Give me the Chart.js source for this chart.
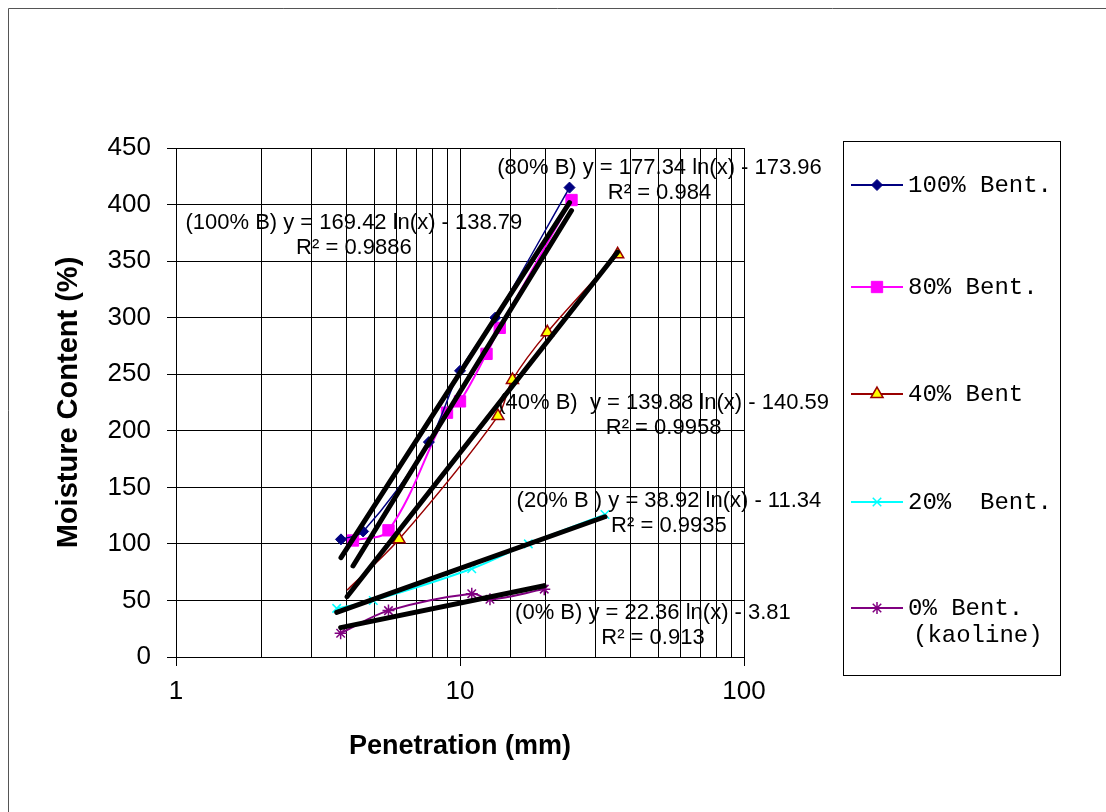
<!DOCTYPE html>
<html>
<head>
<meta charset="utf-8">
<title>Moisture content vs penetration</title>
<script src="https://cdn.jsdelivr.net/npm/chart.js@4.4.1/dist/chart.umd.min.js"></script>
<style>
  html, body { margin: 0; padding: 0; background: #fff; }
  #wrap { width: 1106px; height: 812px; position: relative; }
</style>
</head>
<body>
<div id="wrap"><canvas id="chart"></canvas></div>
<script>
// penetration (mm) / moisture content (%)
const pen100 = [3.81, 4.56, 7.77, 10.0, 13.3, 24.3];
const mc100  = [104, 111, 190, 253, 300, 415];
const pen80  = [4.2, 5.6, 9.0, 10.0, 12.4, 13.8, 24.7];
const mc80   = [103, 112, 216, 226, 268, 291, 404];
const pen40  = [4.0, 6.1, 13.6, 15.3, 20.3, 35.9];
const mc40   = [59, 104, 213, 245, 287, 356];
const pen20  = [3.68, 4.95, 11.0, 17.4, 32.4];
const mc20   = [43, 50, 78, 100, 126];
const pen0   = [3.8, 5.6, 11.0, 12.75, 19.8];
const mc0    = [21, 41, 56, 51, 60];

// trendline end points (log fits)
const trendX100 = [3.81, 24.3], trendY100 = [87.8, 401.7];
const trendX80  = [4.2, 24.7],  trendY80  = [80.5, 394.7];
const trendX40  = [4.0, 35.9],  trendY40  = [53.3, 358];
const trendX20  = [3.68, 32.4], trendY20  = [39.4, 124];
const trendX0   = [3.8, 19.8],  trendY0   = [26, 63];

const seriesNames = ['100% Bent.', '80% Bent.', '40% Bent', '20%  Bent.', '0% Bent.'];
const trendEquations = [
  '(100% B) y = 169.42 ln(x) - 138.79',
  '(80% B) y = 177.34 ln(x) - 173.96',
  '(40% B)  y = 139.88 ln(x) - 140.59',
  '(20% B ) y = 38.92 ln(x) - 11.34',
  '(0% B) y = 22.36 ln(x) - 3.81'
];
const trendR2 = ['R² = 0.9886', 'R² = 0.984', 'R² = 0.9958', 'R² = 0.9935', 'R² = 0.913'];
const xTickLabels = [1, 10, 100];

const pts = (xs, ys) => xs.map((x, i) => ({ x: x, y: ys[i] }));

function seriesDs(label, xs, ys, color, style) {
  return {
    label: label,
    data: pts(xs, ys),
    borderColor: color,
    backgroundColor: style.fill || color,
    borderWidth: style.width || 2,
    pointStyle: style.shape,
    pointRadius: style.radius,
    pointBorderColor: style.stroke || color,
    pointBackgroundColor: style.fill || color,
    pointBorderWidth: style.pbw || 1,
    tension: 0.35,
    order: 2
  };
}

function trendDs(xs, ys) {
  return {
    label: 'trend',
    data: pts(xs, ys),
    borderColor: '#000',
    borderWidth: 5,
    pointRadius: 0,
    borderCapStyle: 'round',
    tension: 0,
    order: 1
  };
}

const datasets = [
  seriesDs(seriesNames[0], pen100, mc100, '#000080', { shape: 'rectRot', radius: 5.5, width: 1.5 }),
  seriesDs(seriesNames[1], pen80, mc80, '#ff00ff', { shape: 'rect', radius: 8 }),
  seriesDs(seriesNames[2], pen40, mc40, '#990000', { shape: 'triangle', radius: [0, 7, 7, 7, 7, 7], fill: '#ffff00', stroke: '#990000', pbw: 1.5, width: 1.5 }),
  seriesDs(seriesNames[3], pen20, mc20, '#00ffff', { shape: 'crossRot', radius: 6, pbw: 1.5 }),
  seriesDs(seriesNames[4], pen0, mc0, '#800080', { shape: 'star', radius: 6, pbw: 1.5 }),
  trendDs(trendX100, trendY100),
  trendDs(trendX80, trendY80),
  trendDs(trendX40, trendY40),
  trendDs(trendX20, trendY20),
  trendDs(trendX0, trendY0)
];

// where the equation boxes sit (data units, centre of first line)
const eqAnchor = [
  { x: 4.23, y: 384 },
  { x: 50.4, y: 432 },
  { x: 52.1, y: 225 },
  { x: 54.4, y: 138 },
  { x: 47.8, y: 39 }
];

const extras = {
  id: 'extras',
  beforeDraw(chart) {
    const ctx = chart.ctx;
    ctx.save();
    ctx.strokeStyle = '#555';
    ctx.lineWidth = 1;
    ctx.beginPath();
    ctx.moveTo(8.5, 900);
    ctx.lineTo(8.5, 8.5);
    ctx.lineTo(1200, 8.5);
    ctx.stroke();
    ctx.restore();
  },
  afterDraw(chart) {
    const ctx = chart.ctx;
    const xs = chart.scales.x, ys = chart.scales.y;
    ctx.save();
    // trendline equations
    ctx.fillStyle = '#000';
    ctx.font = '22px "Liberation Sans", Arial, sans-serif';
    ctx.textAlign = 'center';
    ctx.textBaseline = 'middle';
    eqAnchor.forEach((a, i) => {
      const px = xs.getPixelForValue(a.x);
      const py = ys.getPixelForValue(a.y);
      ctx.fillText(trendEquations[i], px, py);
      ctx.fillText(trendR2[i], px, py + 25);
    });

    // legend box
    const box = { left: 843.5, top: 141.5, w: 217, h: 534 };
    ctx.strokeStyle = '#000';
    ctx.lineWidth = 1;
    ctx.strokeRect(box.left, box.top, box.w, box.h);
    ctx.font = '24px "Liberation Mono", "Courier New", monospace';
    ctx.textAlign = 'left';
    const rowY = [185, 287, 394, 502, 608];
    for (let i = 0; i < 5; i++) {
      const ds = chart.data.datasets[i];
      const y = rowY[i];
      ctx.strokeStyle = ds.borderColor;
      ctx.lineWidth = 2;
      ctx.beginPath();
      ctx.moveTo(851, y);
      ctx.lineTo(903, y);
      ctx.stroke();
      const r = Array.isArray(ds.pointRadius) ? ds.pointRadius[1] : ds.pointRadius;
      ctx.fillStyle = ds.pointBackgroundColor;
      ctx.strokeStyle = ds.pointBorderColor;
      ctx.lineWidth = ds.pointBorderWidth;
      Chart.helpers.drawPoint(ctx, { pointStyle: ds.pointStyle, radius: r, rotation: 0, borderWidth: ds.pointBorderWidth }, 877, y);
      ctx.fillStyle = '#000';
      ctx.fillText(ds.label, 908, y + 1);
    }
    ctx.fillText('(kaoline)', 913, 636);
    ctx.restore();
  }
};

new Chart(document.getElementById('chart'), {
  type: 'line',
  data: { datasets: datasets },
  options: {
    responsive: true,
    maintainAspectRatio: false,
    animation: false,
    layout: { padding: { top: 148, right: 362, left: 0, bottom: 0 } },
    plugins: {
      legend: { display: false },
      tooltip: { enabled: false }
    },
    scales: {
      x: {
        type: 'logarithmic',
        min: 1,
        max: 100,
        afterFit: s => { s.height = 155; },
        border: { color: '#000', width: 1 },
        grid: {
          color: '#000',
          lineWidth: 1,
          tickLength: 9,
          tickColor: c => xTickLabels.includes(c.tick && c.tick.value) ? '#000' : 'rgba(0,0,0,0)'
        },
        ticks: {
          autoSkip: false,
          maxRotation: 0,
          padding: 10,
          color: '#000',
          font: { family: '"Liberation Sans", Arial, sans-serif', size: 26 },
          callback: v => xTickLabels.includes(v) ? String(v) : ''
        },
        title: {
          display: true,
          text: 'Penetration (mm)',
          color: '#000',
          font: { family: '"Liberation Sans", Arial, sans-serif', size: 27, weight: 'bold' },
          padding: { top: 0, bottom: 49 }
        }
      },
      y: {
        min: 0,
        max: 450,
        afterFit: s => { s.width = 176; },
        border: { color: '#000', width: 1 },
        grid: { color: '#000', lineWidth: 1, tickLength: 9, tickColor: '#000' },
        ticks: {
          stepSize: 50,
          padding: 16,
          color: '#000',
          font: { family: '"Liberation Sans", Arial, sans-serif', size: 26 }
        },
        title: {
          display: true,
          text: 'Moisture Content (%)',
          color: '#000',
          font: { family: '"Liberation Sans", Arial, sans-serif', size: 29, weight: 'bold' },
          padding: { top: 52, bottom: 0 }
        }
      }
    }
  },
  plugins: [extras]
});
</script>
</body>
</html>
